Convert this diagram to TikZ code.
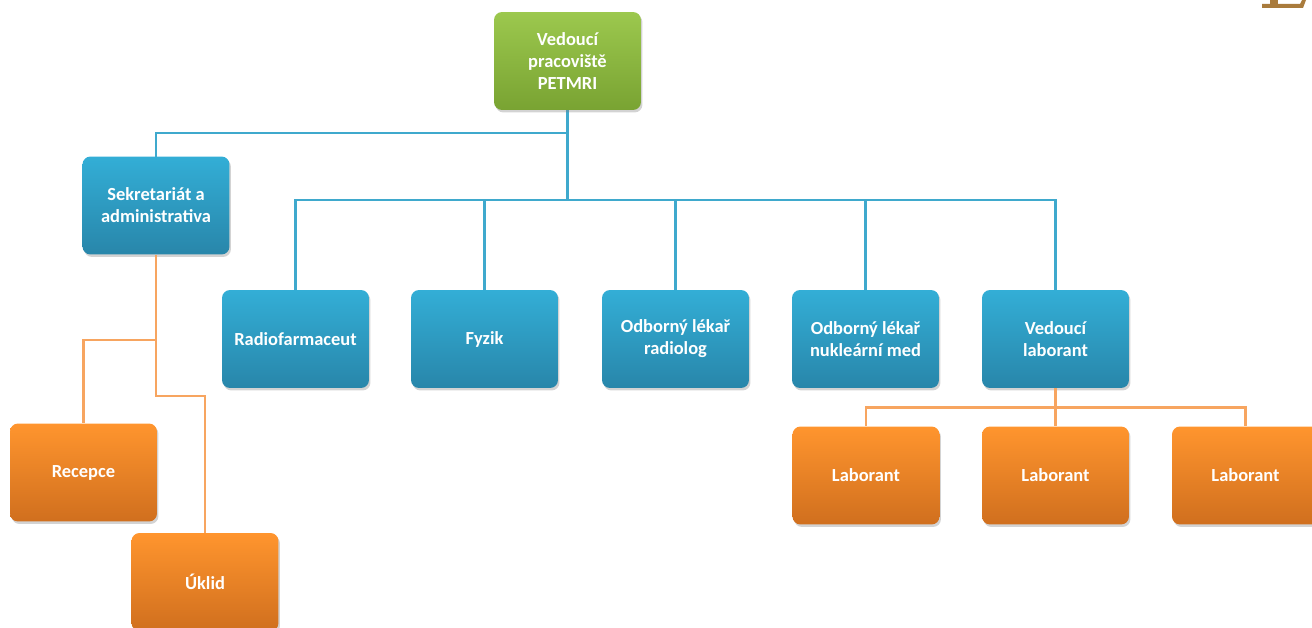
\documentclass[tikz,border=0pt]{standalone}
\usepackage{fontspec}
\setmainfont{Carlito}
\usetikzlibrary{shadows}

\definecolor{boxblue}{HTML}{33AED6}
\definecolor{boxbluedark}{HTML}{2886AA}
\definecolor{boxorange}{HTML}{FF952E}
\definecolor{boxorangedark}{HTML}{D06F1E}
\definecolor{boxgreen}{HTML}{9CC84E}
\definecolor{boxgreendark}{HTML}{79A332}
\definecolor{lineblue}{HTML}{3FA9CD}
\definecolor{lineorange}{HTML}{F7A560}
\definecolor{titlebrown}{HTML}{A97B3C}

\tikzset{
		unit/.style={
			rectangle, rounded corners=0.16cm, inner sep=0pt,
			minimum width=2.94cm, minimum height=1.96cm,
			text width=2.8cm, align=flush center,
			text=white, font=\bfseries\fontsize{10.5}{12.5}\selectfont,
			drop shadow={opacity=0.35, shadow xshift=0.03cm, shadow yshift=-0.05cm}
		},
		blueunit/.style={unit, top color=boxblue, bottom color=boxbluedark},
		orangeunit/.style={unit, top color=boxorange, bottom color=boxorangedark},
		greenunit/.style={unit, top color=boxgreen, bottom color=boxgreendark},
		blueline/.style={draw=lineblue, line width=1.5pt},
		orangeline/.style={draw=lineorange, line width=1.5pt}
	}

\begin{document}
\begin{tikzpicture}[x=0.02cm, y=-0.02cm]
	\useasboundingbox (0,0) rectangle (1312,628);

	% lines first, boxes on top
	\coordinate (topbot) at (567.5,110);
	\draw[blueline] (topbot) -- ++(0,23) -| (156,157);
	\foreach \x in {295.5,484.5,675.5,865.5,1055.5}
		\draw[blueline] (topbot) -- ++(0,90) -| (\x,290);

	\node[greenunit] (vedouci) at (567.5,61) {Vedoucí\\pracoviště\\PETMRI};
	\node[blueunit] (sekretariat) at (156,205.5) {Sekretariát a\\administrativa};

	\node[blueunit] (radiofarm) at (295.5,339) {Radiofarmaceut};
	\node[blueunit] (fyzik) at (484.5,339) {Fyzik};
	\node[blueunit] (radiolog) at (675.5,339) {Odborný lékař\\radiolog};
	\node[blueunit] (nuklmed) at (865.5,339) {Odborný lékař\\nukleární med};
	\node[blueunit] (vedlab) at (1055.5,339) {Vedoucí\\laborant};

	\node[orangeunit] (recepce) at (83.5,472.5) {Recepce};
	\node[orangeunit] (uklid) at (205,582) {Úklid};
	\node[orangeunit] (lab1) at (866,475.5) {Laborant};
	\node[orangeunit] (lab2) at (1055.5,475.5) {Laborant};
	\node[orangeunit] (lab3) at (1245.5,475.5) {Laborant};

	\draw[orangeline] (sekretariat.south) -- ++(0,141) -| (uklid.north);
	\draw[orangeline] (sekretariat.south) ++(0,85) -| (recepce.north);
	\foreach \n in {lab1,lab2,lab3}
		\draw[orangeline] (vedlab.south) -- ++(0,19) -| (\n.north);

	% piece of a title letter, cut off at the top
	\fill[titlebrown] (1262,4) -- (1300,4) -- (1302,0) -- (1306,0) -- (1303,8) -- (1262,8) -- cycle;
	\fill[titlebrown] (1270,0) rectangle (1278,5);
\end{tikzpicture}
\end{document}
